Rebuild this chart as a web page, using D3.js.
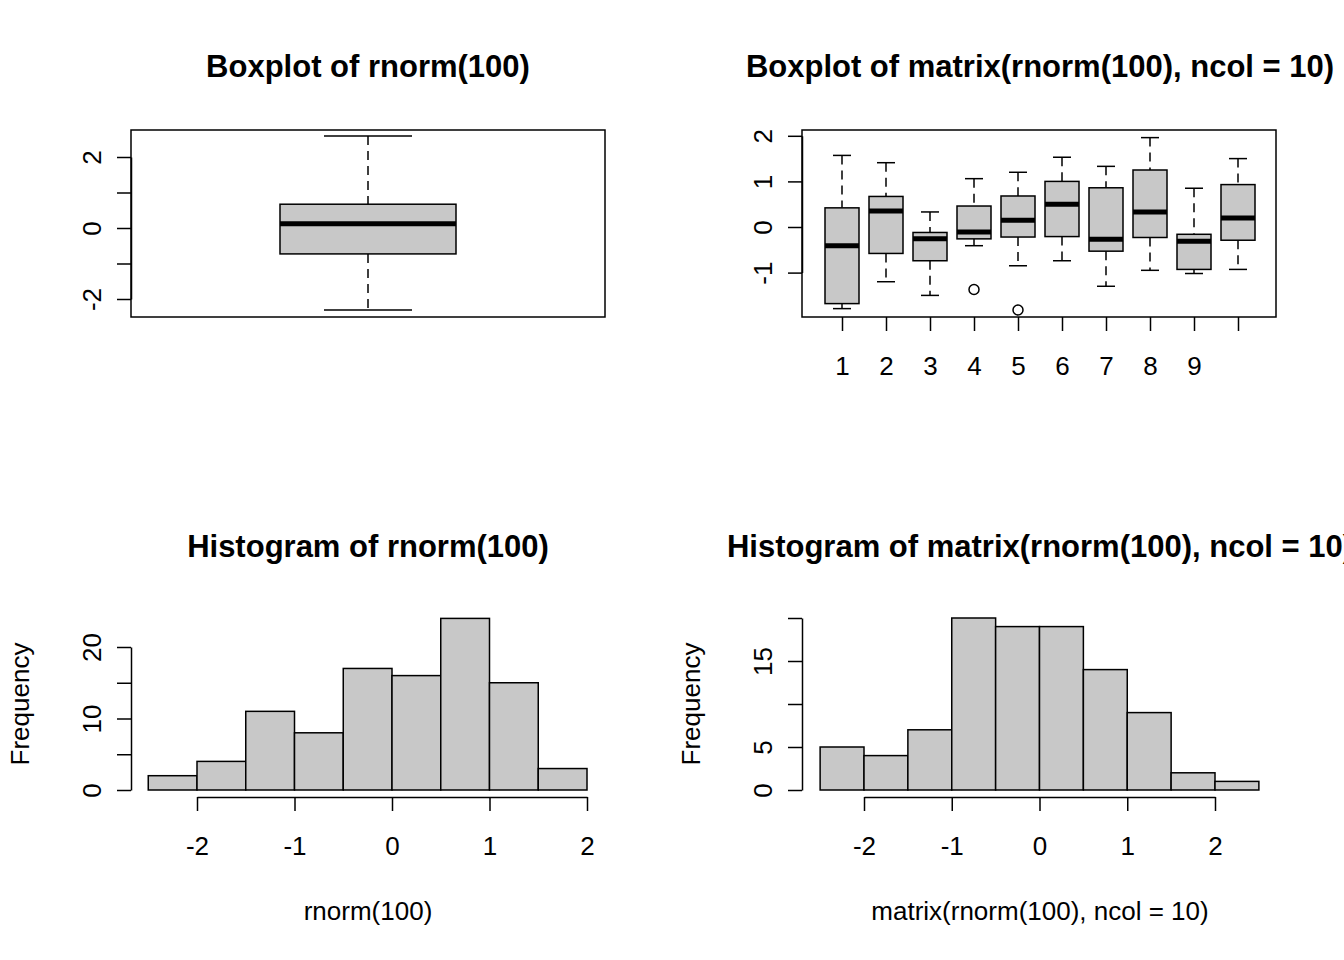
<!DOCTYPE html>
<html><head><meta charset="utf-8">
<script src="https://cdn.jsdelivr.net/npm/d3@7"></script>
<style>body{margin:0;background:#fff}text{font-family:"Liberation Sans",Arial,sans-serif}</style>
</head><body><div id="viz"></div>
<script>
// Single boxplot stats: [lowWhisker, q1, median, q3, highWhisker]
const box1 = [-2.31, -0.73, 0.12, 0.67, 2.59];
// Ten column boxplots
const boxCols = [
  [-1.79, -1.68, -0.41, 0.42, 1.57],
  [-1.2, -0.58, 0.35, 0.67, 1.41],
  [-1.5, -0.74, -0.26, -0.12, 0.33],
  [-0.41, -0.26, -0.11, 0.46, 1.06],
  [-0.85, -0.22, 0.15, 0.68, 1.2],
  [-0.74, -0.21, 0.5, 1.0, 1.53],
  [-1.3, -0.53, -0.27, 0.86, 1.33],
  [-0.95, -0.23, 0.33, 1.25, 1.96],
  [-1.02, -0.93, -0.31, -0.16, 0.85],
  [-0.93, -0.29, 0.2, 0.93, 1.5]
];
const outliers = [{col: 4, v: -1.37}, {col: 5, v: -1.82}];
const hist1Breaks = [-2.5, -2, -1.5, -1, -0.5, 0, 0.5, 1, 1.5, 2];
const hist1Counts = [2, 4, 11, 8, 17, 16, 24, 15, 3];
const hist2Breaks = [-2.5, -2, -1.5, -1, -0.5, 0, 0.5, 1, 1.5, 2, 2.5];
const hist2Counts = [5, 4, 7, 20, 19, 19, 14, 9, 2, 1];

const W = 1344, H = 960, fill = "#c8c8c8", fs = 26;
const svg = d3.select("#viz").append("svg").attr("width", W).attr("height", H);

function title(x, y, t) {
  svg.append("text").attr("x", x).attr("y", y).attr("text-anchor", "middle")
    .attr("font-size", 31).attr("font-weight", "bold").text(t);
}
function yAxis(x, y, ticks, labels) {
  const g = svg.append("g").attr("transform", `translate(${x},0)`);
  g.call(d3.axisLeft(y).tickValues(ticks).tickSize(14).tickSizeOuter(0).tickFormat(d => labels.includes(d) ? String(d) : ""));
  g.select(".domain").attr("stroke-width", 1.5);
  g.selectAll(".tick line").attr("stroke-width", 1.5);
  g.selectAll(".tick text").attr("font-size", fs).attr("fill", "#000")
    .attr("transform", "translate(-30,0) rotate(-90)")
    .attr("x", 0).attr("y", 0).attr("dy", 0).attr("text-anchor", "middle");
  return g;
}
function xAxis(yPos, x, ticks, labels, labelY) {
  const g = svg.append("g").attr("transform", `translate(0,${yPos})`);
  g.call(d3.axisBottom(x).tickValues(ticks).tickSize(14).tickSizeOuter(0)
    .tickFormat((d, i) => labels[i] === undefined ? "" : labels[i]));
  g.select(".domain").attr("stroke-width", 1.5);
  g.selectAll(".tick line").attr("stroke-width", 1.5);
  g.selectAll(".tick text").attr("font-size", fs).attr("fill", "#000").attr("y", labelY).attr("dy", "0.35em");
  return g;
}
function drawBox(cx, hw, y, s, capHw) {
  const g = svg.append("g");
  g.append("line").attr("x1", cx).attr("x2", cx).attr("y1", y(s[4])).attr("y2", y(s[3]))
    .attr("stroke", "#000").attr("stroke-width", 1.5).attr("stroke-dasharray", "9,6");
  g.append("line").attr("x1", cx).attr("x2", cx).attr("y1", y(s[1])).attr("y2", y(s[0]))
    .attr("stroke", "#000").attr("stroke-width", 1.5).attr("stroke-dasharray", "9,6");
  [s[0], s[4]].forEach(v => g.append("line").attr("x1", cx - capHw).attr("x2", cx + capHw)
    .attr("y1", y(v)).attr("y2", y(v)).attr("stroke", "#000").attr("stroke-width", 1.5));
  g.append("rect").attr("x", cx - hw).attr("width", 2 * hw).attr("y", y(s[3])).attr("height", y(s[1]) - y(s[3]))
    .attr("fill", fill).attr("stroke", "#000").attr("stroke-width", 1.5);
  g.append("line").attr("x1", cx - hw).attr("x2", cx + hw).attr("y1", y(s[2])).attr("y2", y(s[2]))
    .attr("stroke", "#000").attr("stroke-width", 5);
}

// Panel 1
title(368, 77, "Boxplot of rnorm(100)");
const y1 = d3.scaleLinear().domain([-2, 2]).range([299, 157]);
svg.append("rect").attr("x", 131).attr("y", 130).attr("width", 474).attr("height", 187)
  .attr("fill", "none").attr("stroke", "#000").attr("stroke-width", 1.5);
yAxis(131, y1, [-2, -1, 0, 1, 2], [-2, 0, 2]);
drawBox(368, 88, y1, box1, 44);

// Panel 2
title(1040, 77, "Boxplot of matrix(rnorm(100), ncol = 10)");
const y2 = d3.scaleLinear().domain([-1, 2]).range([272.6, 135.8]);
const x2 = d3.scaleLinear().domain([1, 10]).range([842, 1238]);
svg.append("rect").attr("x", 802).attr("y", 130).attr("width", 474).attr("height", 187)
  .attr("fill", "none").attr("stroke", "#000").attr("stroke-width", 1.5);
yAxis(802, y2, [-1, 0, 1, 2], [-1, 0, 1, 2]);
const xa2 = xAxis(317, x2, d3.range(1, 11), [1, 2, 3, 4, 5, 6, 7, 8, 9], 49);
xa2.select(".domain").remove();
boxCols.forEach((s, i) => drawBox(x2(i + 1), 17, y2, s, 9));
outliers.forEach(o => svg.append("circle").attr("cx", x2(o.col)).attr("cy", y2(o.v)).attr("r", 5)
  .attr("fill", "none").attr("stroke", "#000").attr("stroke-width", 1.5));

// Histograms
function hist(cx, breaks, counts, x, y, yTicks, yLabels, xTicks, xLabel, axisX) {
  svg.selectAll(null).data(counts).enter().append("rect")
    .attr("x", (d, i) => x(breaks[i])).attr("width", (d, i) => x(breaks[i + 1]) - x(breaks[i]))
    .attr("y", d => y(d)).attr("height", d => y(0) - y(d))
    .attr("fill", fill).attr("stroke", "#000").attr("stroke-width", 1.5);
  yAxis(axisX, y, yTicks, yLabels);
  xAxis(797, x, xTicks, xTicks, 49);
  svg.append("text").attr("x", cx).attr("y", 920).attr("text-anchor", "middle").attr("font-size", fs).text(xLabel);
  svg.append("text").attr("transform", `translate(${axisX - 102},704) rotate(-90)`).attr("text-anchor", "middle")
    .attr("font-size", fs).text("Frequency");
}
title(368, 557, "Histogram of rnorm(100)");
hist(368, hist1Breaks, hist1Counts,
  d3.scaleLinear().domain([-2, 2]).range([197, 587]),
  d3.scaleLinear().domain([0, 20]).range([790, 647]),
  [0, 5, 10, 15, 20], [0, 10, 20], [-2, -1, 0, 1, 2], "rnorm(100)", 131);
title(1040, 557, "Histogram of matrix(rnorm(100), ncol = 10)");
hist(1040, hist2Breaks, hist2Counts,
  d3.scaleLinear().domain([-2, 2]).range([864, 1215]),
  d3.scaleLinear().domain([0, 20]).range([790, 618]),
  [0, 5, 10, 15, 20], [0, 5, 15], [-2, -1, 0, 1, 2], "matrix(rnorm(100), ncol = 10)", 802);
</script></body></html>
